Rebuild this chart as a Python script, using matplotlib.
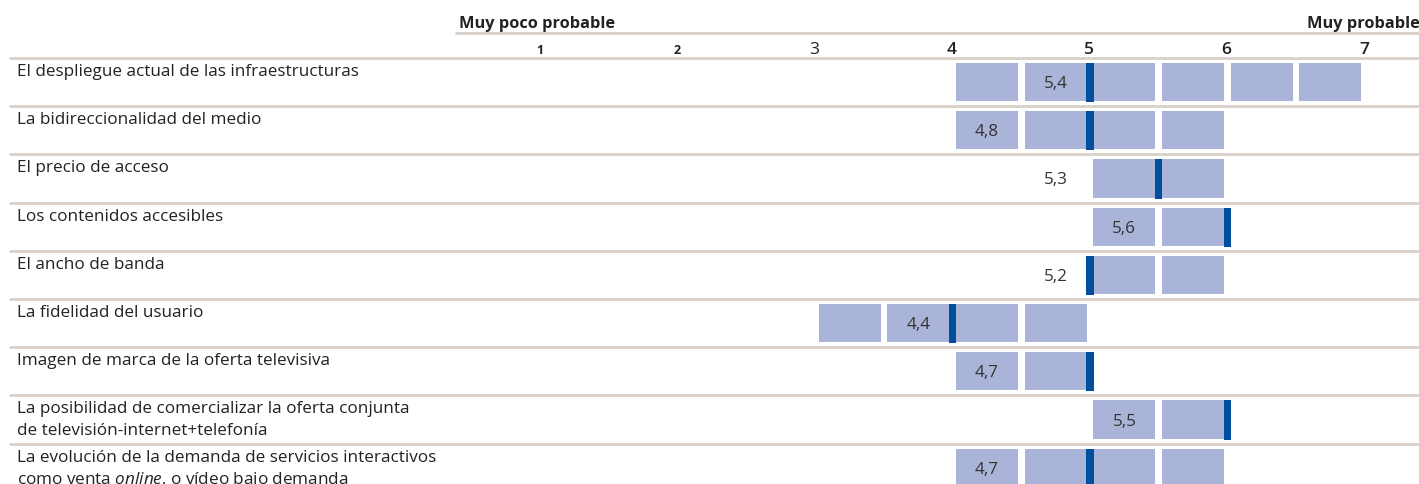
import matplotlib
matplotlib.use("Agg")
import matplotlib.pyplot as plt
from matplotlib.patches import Rectangle

plt.rcParams['font.family'] = ['Open Sans', 'DejaVu Sans']
plt.rcParams['mathtext.fontset'] = 'custom'
plt.rcParams['mathtext.rm'] = 'Open Sans'
plt.rcParams['mathtext.it'] = 'Open Sans:italic'

# ---------------- data ----------------
factors = [
    "El despliegue actual de las infraestructuras",
    "La bidireccionalidad del medio",
    "El precio de acceso",
    "Los contenidos accesibles",
    "El ancho de banda",
    "La fidelidad del usuario",
    "Imagen de marca de la oferta televisiva",
    "La posibilidad de comercializar la oferta conjunta\nde televisión-internet+telefonía",
    "La evolución de la demanda de servicios interactivos\ncomo venta $\\mathit{online}$, o vídeo bajo demanda",
]
value_labels = ["5,4", "4,8", "5,3", "5,6", "5,2", "4,4", "4,7", "5,5", "4,7"]
range_start = [4.0, 4.0, 5.0, 5.0, 5.0, 3.0, 4.0, 5.0, 4.0]
range_end = [7.0, 6.0, 6.0, 6.0, 6.0, 5.0, 5.0, 6.0, 6.0]
marker_pos = [5.0, 5.0, 5.5, 6.0, 5.0, 4.0, 5.0, 6.0, 5.0]
label_cell = [4.5, 4.0, 4.5, 5.0, 4.5, 3.5, 4.0, 5.0, 4.0]
scale_ticks = [1, 2, 3, 4, 5, 6, 7]
scale_low = "Muy poco probable"
scale_high = "Muy probable"

# ---------------- layout ----------------
W, H = 1419, 484
DPI = 100
fig = plt.figure(figsize=(W / DPI, H / DPI), dpi=DPI)
ax = fig.add_axes([0, 0, 1, 1])
PX0, UNIT = 540.0, 137.33   # pixel of scale value 1, pixels per unit


def px2s(px):
    return 1 + (px - PX0) / UNIT


ax.set_xlim(px2s(0), px2s(W))
ax.set_ylim(H, 0)
ax.axis('off')

cell_color = '#aab4d8'
marker_color = '#004f9e'
line_color = '#d8d0c7'
text_color = '#222222'

ROW_TOP = 58.0
ROW_H = 48.2
cell_off, cell_w = 0.03, 0.45
marker_w = 0.055
LABEL_FS = 12.3

# header lines
ax.plot([px2s(455), px2s(W)], [33, 33], color=line_color, lw=2.0, solid_capstyle='butt')
ax.text(px2s(459), 28, scale_low, fontsize=11.8, fontweight='bold', color=text_color,
        ha='left', va='baseline')
ax.text(px2s(W + 1), 28, scale_high, fontsize=11.8, fontweight='bold', color=text_color,
        ha='right', va='baseline')
for t in scale_ticks:
    if t <= 2:
        ax.text(t, 54, str(t), fontsize=9, fontweight='bold', color=text_color,
                ha='center', va='baseline')
    else:
        ax.text(t, 54, str(t), fontsize=12.5, fontweight='semibold' if t > 3 else 'normal',
                color=text_color, ha='center', va='baseline')

for i, name in enumerate(factors):
    top = ROW_TOP + i * ROW_H
    ax.plot([px2s(9), px2s(W)], [top, top], color=line_color, lw=2.0, solid_capstyle='butt')
    # label (one text per line so the first line keeps its baseline)
    for k, line in enumerate(name.split("\n")):
        ax.text(px2s(17), top + 18 + k * 22, line, fontsize=LABEL_FS, color=text_color,
                ha='left', va='baseline')
    # cells
    y0, y1 = top + 5, top + ROW_H - 5
    s = range_start[i]
    while s < range_end[i] - 1e-9:
        ax.add_patch(Rectangle((s + cell_off, y0), cell_w, y1 - y0,
                               facecolor=cell_color, edgecolor='none', zorder=2))
        s += 0.5
    # marker
    m = marker_pos[i] + 0.005
    ax.add_patch(Rectangle((m - marker_w / 2, y0), marker_w, y1 - y0 + 1,
                           facecolor=marker_color, edgecolor='none', zorder=3))
    # value label
    ax.text(label_cell[i] + cell_off + cell_w / 2, (y0 + y1) / 2 + 2, value_labels[i],
            fontsize=12.3, color='#333333', ha='center', va='center', zorder=4)

fig.savefig('out.png', dpi=DPI)
